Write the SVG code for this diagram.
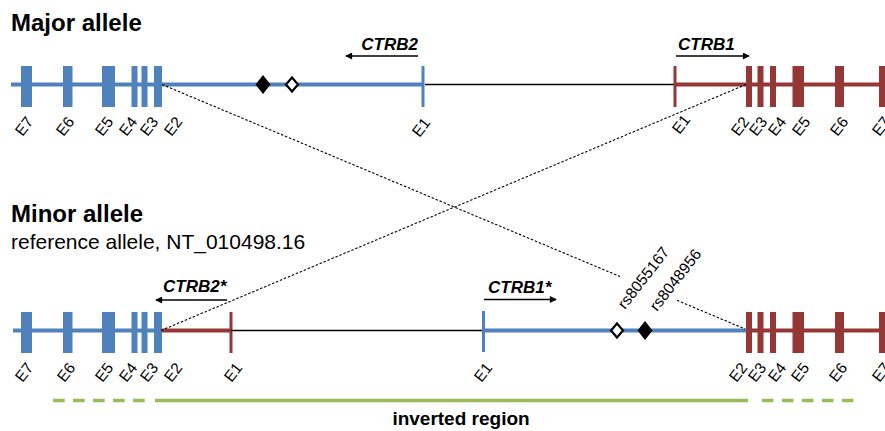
<svg xmlns="http://www.w3.org/2000/svg" width="885" height="431" viewBox="0 0 885 431">
<style>
text{font-family:"Liberation Sans",Arial,sans-serif;fill:#000}
.title{font-weight:bold;font-size:24px}
.sub{font-size:21px}
.gene{font-weight:bold;font-style:italic;font-size:17px}
.rs{font-size:15.5px}
.inv{font-weight:bold;font-size:19px;text-anchor:middle}
.blue{fill:#4F81BD}
.red{fill:#953735}
.bl{stroke:#4F81BD;stroke-width:4;fill:none}
.rl{stroke:#953735;stroke-width:4;fill:none}
.bt{stroke:#4F81BD;stroke-width:3}
.rt{stroke:#953735;stroke-width:3}
.thin{stroke:#000;stroke-width:1.3}
.arr{stroke:#000;stroke-width:1.5;marker-end:url(#ah)}
.dash{stroke:#000;stroke-width:1.1;stroke-dasharray:2.5 1.8;fill:none}
.green{stroke:#9BBB59;stroke-width:3.5;fill:none}
</style>
<defs>
<marker id="ah" viewBox="0 0 8 8" refX="7" refY="4" markerWidth="8" markerHeight="7" markerUnits="userSpaceOnUse" orient="auto">
<path d="M0,0 L8,4 L0,8 z" fill="#000"/>
</marker>
<g id="blueExons">
<rect x="21" width="11" height="41"/>
<rect x="63" width="9.5" height="41"/>
<rect x="102" width="13" height="41"/>
<rect x="131.5" width="6" height="41"/>
<rect x="141.5" width="6" height="41"/>
<rect x="154" width="8" height="41"/>
</g>
<g id="redExons">
<rect x="746" width="6" height="41"/>
<rect x="757.5" width="6" height="41"/>
<rect x="770" width="6" height="41"/>
<rect x="792.5" width="11.5" height="41"/>
<rect x="835" width="9" height="41"/>
<rect x="879" width="11" height="41"/>
</g>
</defs>

<!-- Major allele -->
<g id="major-title"><text class="title" x="11" y="31">Major allele</text></g>

<g id="major-CTRB2">
<line class="bl" x1="11" y1="84.5" x2="423" y2="84.5"/>
<use href="#blueExons" y="66" class="blue"/>
<line class="bt" x1="423" y1="66" x2="423" y2="107"/>
<text class="gene" x="418" y="50" text-anchor="end">CTRB2</text>
<line class="arr" x1="418" y1="56" x2="346" y2="56"/>
<g class="labels">
<text class="rs" transform="translate(22.4,137) rotate(-52)">E7</text>
<text class="rs" transform="translate(63.4,137) rotate(-52)">E6</text>
<text class="rs" transform="translate(102.4,137) rotate(-52)">E5</text>
<text class="rs" transform="translate(126.4,137) rotate(-52)">E4</text>
<text class="rs" transform="translate(147.4,137) rotate(-52)">E3</text>
<text class="rs" transform="translate(171.4,137) rotate(-52)">E2</text>
<text class="rs" transform="translate(419.4,138) rotate(-52)">E1</text>
</g>
</g>

<g id="major-intergenic">
<line class="thin" x1="425" y1="84.5" x2="675" y2="84.5"/>
</g>

<g id="major-snps">
<path d="M263,75 L270.5,84.5 L263,94 L255.5,84.5 Z" fill="#000"/>
<path d="M292,77.5 L298,84.5 L292,91.5 L286,84.5 Z" fill="#fff" stroke="#000" stroke-width="2.2"/>
</g>

<g id="major-CTRB1">
<line class="rl" x1="675" y1="84.5" x2="885" y2="84.5"/>
<use href="#redExons" y="66" class="red"/>
<line class="rt" x1="675" y1="66" x2="675" y2="107"/>
<text class="gene" x="678" y="50">CTRB1</text>
<line class="arr" x1="676" y1="56" x2="749" y2="56"/>
<g class="labels">
<text class="rs" transform="translate(679.4,135) rotate(-52)">E1</text>
<text class="rs" transform="translate(738.4,137) rotate(-52)">E2</text>
<text class="rs" transform="translate(756.4,137) rotate(-52)">E3</text>
<text class="rs" transform="translate(775.4,137) rotate(-52)">E4</text>
<text class="rs" transform="translate(799.4,137) rotate(-52)">E5</text>
<text class="rs" transform="translate(837.4,137) rotate(-52)">E6</text>
<text class="rs" transform="translate(879.4,137) rotate(-52)">E7</text>
</g>
</g>

<!-- Minor allele -->
<g id="minor-title">
<text class="title" x="11" y="222">Minor allele</text>
<text class="sub" x="11" y="249">reference allele, NT_010498.16</text>
</g>

<g id="minor-CTRB2star">
<line class="bl" x1="13" y1="330.5" x2="161" y2="330.5"/>
<line class="rl" x1="160" y1="330.5" x2="231" y2="330.5"/>
<use href="#blueExons" y="312" class="blue"/>
<line class="rt" x1="231" y1="312" x2="231" y2="353"/>
<text class="gene" x="163" y="292">CTRB2*</text>
<line class="arr" x1="227" y1="300" x2="156" y2="300"/>
<g class="labels">
<text class="rs" transform="translate(22.4,383) rotate(-52)">E7</text>
<text class="rs" transform="translate(64.4,383) rotate(-52)">E6</text>
<text class="rs" transform="translate(102.4,383) rotate(-52)">E5</text>
<text class="rs" transform="translate(126.4,383) rotate(-52)">E4</text>
<text class="rs" transform="translate(147.4,383) rotate(-52)">E3</text>
<text class="rs" transform="translate(171.4,383) rotate(-52)">E2</text>
<text class="rs" transform="translate(231.4,383) rotate(-52)">E1</text>
</g>
</g>

<g id="minor-intergenic">
<line class="thin" x1="231" y1="330.5" x2="483" y2="330.5"/>
</g>

<g id="minor-CTRB1star">
<line class="bl" x1="483" y1="330.5" x2="747" y2="330.5"/>
<line class="rl" x1="746" y1="330.5" x2="885" y2="330.5"/>
<use href="#redExons" y="312" class="red"/>
<line class="bt" x1="483.5" y1="311" x2="483.5" y2="352"/>
<text class="gene" x="488" y="293">CTRB1*</text>
<line class="arr" x1="484" y1="299.5" x2="556" y2="299.5"/>
<g class="labels">
<text class="rs" transform="translate(481.4,383) rotate(-52)">E1</text>
<text class="rs" transform="translate(736.4,383) rotate(-52)">E2</text>
<text class="rs" transform="translate(755.4,383) rotate(-52)">E3</text>
<text class="rs" transform="translate(775.4,383) rotate(-52)">E4</text>
<text class="rs" transform="translate(798.4,383) rotate(-52)">E5</text>
<text class="rs" transform="translate(836.4,383) rotate(-52)">E6</text>
<text class="rs" transform="translate(879.4,383) rotate(-52)">E7</text>
</g>
</g>

<g id="minor-snps">
<path d="M617,323.5 L623,330.5 L617,337.5 L611,330.5 Z" fill="#fff" stroke="#000" stroke-width="2.2"/>
<path d="M645,321 L652.5,330.5 L645,340 L637.5,330.5 Z" fill="#000"/>
<text class="rs" transform="translate(625,310) rotate(-52)">rs8055167</text>
<text class="rs" transform="translate(657,312) rotate(-52)">rs8048956</text>
</g>

<!-- connectors -->
<g id="connectors">
<path class="dash" d="M162,84.5 L620,276.5"/>
<path class="dash" d="M677,300.3 L745,329"/>
<path class="dash" d="M161,330.5 L746,84.5"/>
</g>

<g id="inverted-region">
<line class="green" x1="53" y1="400.5" x2="150" y2="400.5" stroke-dasharray="11.7 8.3"/>
<line class="green" x1="155" y1="400.5" x2="748" y2="400.5"/>
<line class="green" x1="762" y1="400.5" x2="855" y2="400.5" stroke-dasharray="11.5 8.5"/>
<text class="inv" x="461" y="425">inverted region</text>
</g>
</svg>
